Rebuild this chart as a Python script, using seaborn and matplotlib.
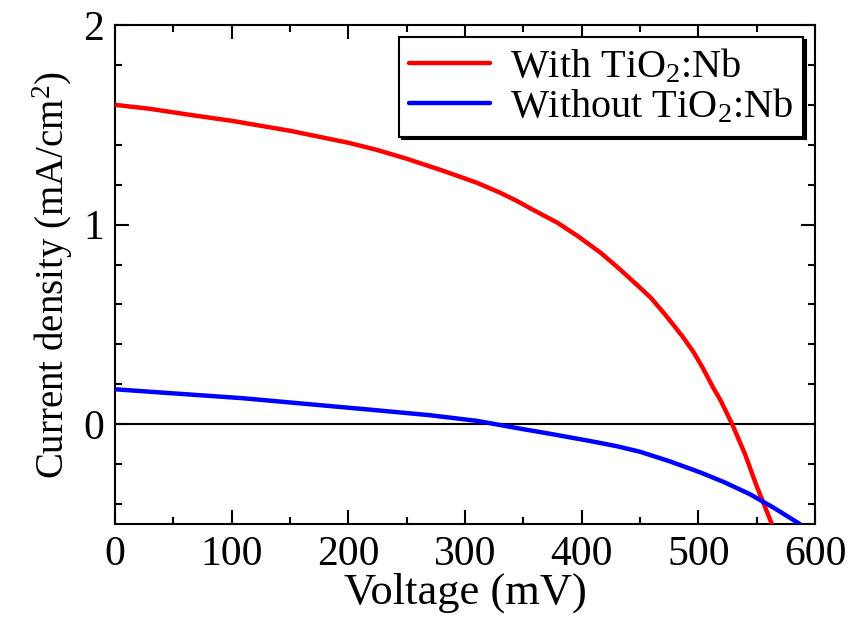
import matplotlib
matplotlib.use('Agg')
import pandas as pd
import matplotlib.pyplot as plt
import seaborn as sns
from matplotlib.ticker import MultipleLocator

# J-V curves
voltage_with = [0, 30, 64, 100, 150, 200, 224, 250, 281, 310, 330, 344,
                358, 379, 396, 416, 432, 447, 459, 470, 481, 487, 496, 504,
                513, 519, 529, 540, 550, 563]
current_with = [1.60, 1.58, 1.55, 1.52, 1.47, 1.41, 1.375, 1.33, 1.27, 1.21,
                1.16, 1.12, 1.075, 1.01, 0.945, 0.86, 0.78, 0.70, 0.635,
                0.56, 0.48, 0.435, 0.36, 0.28, 0.18, 0.12, 0.0, -0.15,
                -0.31, -0.50]

voltage_without = [0, 110, 224, 270, 310, 330, 350, 373, 390, 407, 430, 450,
                   475, 501, 522, 544, 565, 587]
current_without = [0.175, 0.13, 0.07, 0.045, 0.017, -0.004, -0.025, -0.048,
                   -0.066, -0.084, -0.11, -0.138, -0.185, -0.24, -0.29,
                   -0.35, -0.42, -0.50]

labels = ['With TiO$_2$:Nb', 'Without TiO$_2$:Nb']
colors = ['red', 'blue']

sns.set_style('ticks')
plt.rcParams['font.family'] = ['Liberation Serif', 'DejaVu Serif']
plt.rcParams['mathtext.fontset'] = 'custom'
plt.rcParams['mathtext.rm'] = 'Liberation Serif'
plt.rcParams['mathtext.default'] = 'regular'
plt.rcParams['text.color'] = 'black'
plt.rcParams['axes.labelcolor'] = 'black'
plt.rcParams['xtick.color'] = 'black'
plt.rcParams['ytick.color'] = 'black'
plt.rcParams['axes.edgecolor'] = 'black'

df = pd.concat([
    pd.DataFrame({'V': voltage_with, 'J': current_with, 'sample': labels[0]}),
    pd.DataFrame({'V': voltage_without, 'J': current_without,
                  'sample': labels[1]}),
])

fig = plt.figure(figsize=(8.52, 6.17), dpi=100)
ax = fig.add_axes([0.135, 0.1507, 0.8216, 0.8088])

ax.axhline(0, color='black', lw=1.5, zorder=1)
sns.lineplot(data=df, x='V', y='J', hue='sample', palette=colors,
             sort=False, estimator=None, lw=3.2, ax=ax, zorder=3)

ax.set_xlim(0, 600)
ax.set_ylim(-0.5, 2)
ax.xaxis.set_major_locator(MultipleLocator(100))
ax.xaxis.set_minor_locator(MultipleLocator(50))
ax.yaxis.set_major_locator(MultipleLocator(1))
ax.yaxis.set_minor_locator(MultipleLocator(0.2))
ax.tick_params(which='both', direction='in', top=True, right=True,
               width=1.5, labelsize=30, pad=8)
ax.tick_params(which='major', length=10)
ax.tick_params(which='minor', length=5)
for s in ax.spines.values():
    s.set_linewidth(1.5)

ax.set_xlabel('Voltage (mV)', fontsize=32, labelpad=-1)
ax.set_ylabel('Current density (mA/cm$^2$)', fontsize=28, labelpad=6)

leg = ax.legend(loc='upper right', fontsize=29, frameon=True, fancybox=False,
                framealpha=1, edgecolor='black', handlelength=2.0,
                handletextpad=0.5, borderpad=0.25, labelspacing=0.05,
                borderaxespad=0.3,
                shadow={'color': 'black', 'alpha': 1})
leg.get_frame().set_linewidth(1.5)

fig.savefig('out.png', dpi=100)
